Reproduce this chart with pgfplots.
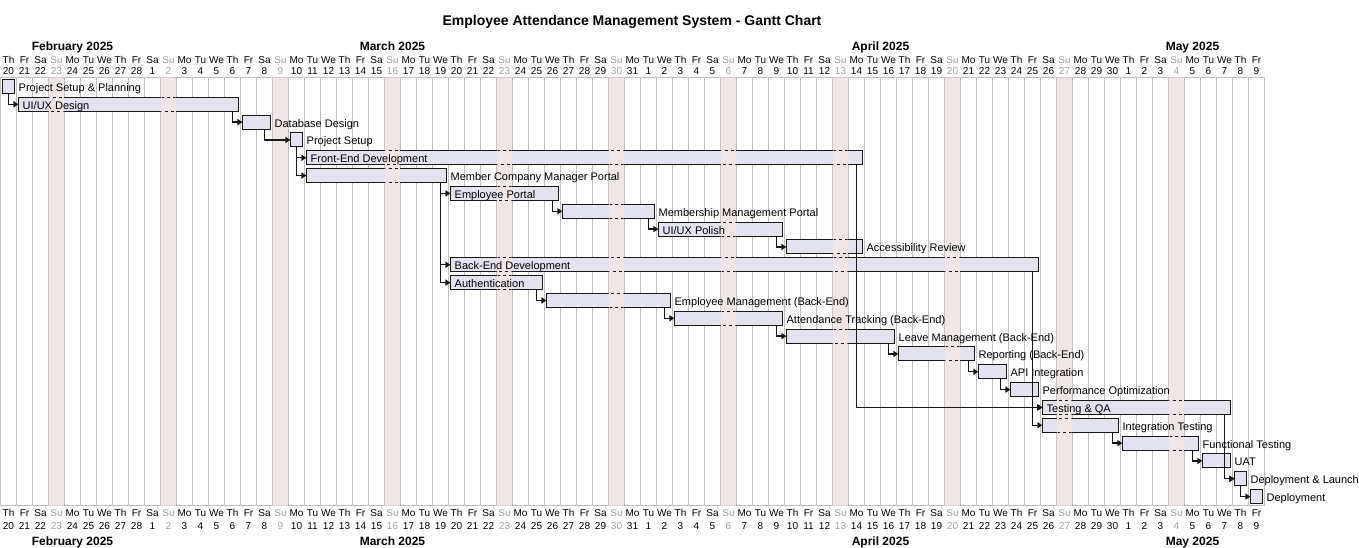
\documentclass[border=0pt]{standalone}
\usepackage{fontspec}
\setmainfont{Liberation Sans}
\usepackage{pgfplots}
\pgfplotsset{compat=1.18}
\usepackage{pgfplotstable}
\usetikzlibrary{arrows.meta}

\definecolor{barfill}{HTML}{E2E2F0}
\definecolor{bardark}{HTML}{181818}
\definecolor{sunpink}{HTML}{F1E5E5}
\definecolor{gridgray}{HTML}{C0C0C0}
\definecolor{sungray}{HTML}{A0A0A0}

\pgfplotstableread{
row start end
0 0 1
1 1 15
2 15 17
3 18 19
4 19 54
5 19 28
6 28 35
7 35 41
8 41 49
9 49 54
10 28 65
11 28 34
12 34 42
13 42 49
14 49 56
15 56 61
16 61 63
17 63 65
18 65 77
19 65 70
20 70 75
21 75 77
22 77 78
23 78 79
}\tasks

\newcommand\wdname[1]{\ifcase#1 Mo\or Tu\or We\or Th\or Fr\or Sa\or Su\fi}

\pgfplotsset{gantt/.style={scale only axis, width=1264pt, height=428pt,
  xmin=0, xmax=79, ymin=0, ymax=24, y dir=reverse,
  at={(0.5pt,-77.5pt)}, anchor=north west}}

\tikzset{
  dep/.style={draw=bardark, line width=1.2pt, -{Triangle[length=5pt,width=6pt]}},
  lbl/.style={anchor=base west, inner sep=0pt, font=\fontsize{11}{13}\selectfont, text=black}
}

\begin{document}
\begin{tikzpicture}
% --- axis 1: grid and bars
\begin{axis}[gantt, xbar stacked, bar width=0.785,
  xtick={0,...,79}, xticklabels={,,}, ytick=\empty,
  xmajorgrids, major grid style={draw=gridgray, line width=1pt},
  axis line style={draw=gridgray, line width=1pt},
  major tick length=0pt, tick style={draw=none}]
\addplot[xbar stacked, draw=none, fill=none] table[x expr=\thisrow{start}+0.125, y expr=\thisrow{row}+0.5] {\tasks};
\addplot[xbar stacked, draw=bardark, line width=1.1pt, fill=barfill] table[x expr=\thisrow{end}-\thisrow{start}-0.25, y expr=\thisrow{row}+0.5] {\tasks};
\end{axis}
% --- axis 2: Sunday (closed day) columns
\begin{axis}[gantt, hide axis]
\addplot[ybar, bar width=0.9375, fill=sunpink, draw=none] coordinates {
(3.5,24) (10.5,24) (17.5,24) (24.5,24) (31.5,24) (38.5,24) (45.5,24) (52.5,24) (59.5,24) (66.5,24) (73.5,24)};
\end{axis}
% --- axis 3: dashed outlines of bars, shown only across closed days
\begin{scope}
\clip \foreach \i in {3,10,17,24,31,38,45,52,59,66,73} {({1.5pt+16pt*\i},0pt) rectangle ({16pt*\i+15.5pt},-547pt)};
\begin{axis}[gantt, hide axis, xbar stacked, bar width=0.785]
\addplot[xbar stacked, draw=none, fill=none] table[x expr=\thisrow{start}+0.125, y expr=\thisrow{row}+0.5] {\tasks};
\addplot[xbar stacked, draw=bardark, line width=1.1pt, fill=none, dash pattern=on 3pt off 3pt, dash phase=1.5pt] table[x expr=\thisrow{end}-\thisrow{start}-0.25, y expr=\thisrow{row}+0.5] {\tasks};
\end{axis}
\end{scope}
% --- axis 4: dependencies and labels
\begin{axis}[gantt, hide axis, clip=false]
\addplot[dep] coordinates {(0.5,0.89) (0.5,1.5) (1.125,1.5)};
\addplot[dep] coordinates {(14.5,1.89) (14.5,2.5) (15.125,2.5)};
\addplot[dep] coordinates {(16.5,2.89) (16.5,3.5) (18.125,3.5)};
\addplot[dep] coordinates {(18.5,3.89) (18.5,4.5) (19.125,4.5)};
\addplot[dep] coordinates {(18.5,3.89) (18.5,5.5) (19.125,5.5)};
\addplot[dep] coordinates {(27.5,5.89) (27.5,6.5) (28.125,6.5)};
\addplot[dep] coordinates {(27.5,5.89) (27.5,10.5) (28.125,10.5)};
\addplot[dep] coordinates {(27.5,5.89) (27.5,11.5) (28.125,11.5)};
\addplot[dep] coordinates {(34.5,6.89) (34.5,7.5) (35.125,7.5)};
\addplot[dep] coordinates {(40.5,7.89) (40.5,8.5) (41.125,8.5)};
\addplot[dep] coordinates {(48.5,8.89) (48.5,9.5) (49.125,9.5)};
\addplot[dep] coordinates {(33.5,11.89) (33.5,12.5) (34.125,12.5)};
\addplot[dep] coordinates {(41.5,12.89) (41.5,13.5) (42.125,13.5)};
\addplot[dep] coordinates {(48.5,13.89) (48.5,14.5) (49.125,14.5)};
\addplot[dep] coordinates {(55.5,14.89) (55.5,15.5) (56.125,15.5)};
\addplot[dep] coordinates {(60.5,15.89) (60.5,16.5) (61.125,16.5)};
\addplot[dep] coordinates {(62.5,16.89) (62.5,17.5) (63.125,17.5)};
\addplot[dep] coordinates {(64.5,17.89) (64.5,18.5) (65.125,18.5)};
\addplot[dep] coordinates {(64.5,10.89) (64.5,18.5) (65.125,18.5)};
\addplot[dep] coordinates {(64.5,10.89) (64.5,19.5) (65.125,19.5)};
\addplot[dep] coordinates {(53.5,4.89) (53.5,18.5) (65.125,18.5)};
\addplot[dep] coordinates {(69.5,19.89) (69.5,20.5) (70.125,20.5)};
\addplot[dep] coordinates {(74.5,20.89) (74.5,21.5) (75.125,21.5)};
\addplot[dep] coordinates {(76.5,18.89) (76.5,22.5) (77.125,22.5)};
\addplot[dep] coordinates {(76.5,21.89) (76.5,22.5) (77.125,22.5)};
\addplot[dep] coordinates {(77.5,22.89) (77.5,23.5) (78.125,23.5)};
% labels
\node[lbl] at (axis cs:1.125,0.78) {Project Setup \& Planning};
\node[lbl] at (axis cs:1.375,1.78) {UI/UX Design};
\node[lbl] at (axis cs:17.125,2.78) {Database Design};
\node[lbl] at (axis cs:19.125,3.78) {Project Setup};
\node[lbl] at (axis cs:19.375,4.78) {Front-End Development};
\node[lbl] at (axis cs:28.125,5.78) {Member Company Manager Portal};
\node[lbl] at (axis cs:28.375,6.78) {Employee Portal};
\node[lbl] at (axis cs:41.125,7.78) {Membership Management Portal};
\node[lbl] at (axis cs:41.375,8.78) {UI/UX Polish};
\node[lbl] at (axis cs:54.125,9.78) {Accessibility Review};
\node[lbl] at (axis cs:28.375,10.78) {Back-End Development};
\node[lbl] at (axis cs:28.375,11.78) {Authentication};
\node[lbl] at (axis cs:42.125,12.78) {Employee Management (Back-End)};
\node[lbl] at (axis cs:49.125,13.78) {Attendance Tracking (Back-End)};
\node[lbl] at (axis cs:56.125,14.78) {Leave Management (Back-End)};
\node[lbl] at (axis cs:61.125,15.78) {Reporting (Back-End)};
\node[lbl] at (axis cs:63.125,16.78) {API Integration};
\node[lbl] at (axis cs:65.125,17.78) {Performance Optimization};
\node[lbl] at (axis cs:65.375,18.78) {Testing \& QA};
\node[lbl] at (axis cs:70.125,19.78) {Integration Testing};
\node[lbl] at (axis cs:75.125,20.78) {Functional Testing};
\node[lbl] at (axis cs:77.125,21.78) {UAT};
\node[lbl] at (axis cs:78.125,22.78) {Deployment \& Launch};
\node[lbl] at (axis cs:79.125,23.78) {Deployment};
\end{axis}

% --- title
\node[anchor=base, inner sep=0pt, font=\fontsize{14}{16}\selectfont\bfseries] at (632pt,-25pt) {Employee Attendance Management System - Gantt Chart};

% --- time scale (top and bottom)
\foreach \d in {0,...,78} {
  \pgfmathtruncatemacro\wdn{mod(\d+3,7)}
  \pgfmathtruncatemacro\dn{\d<9 ? \d+20 : (\d<40 ? \d-8 : (\d<70 ? \d-39 : \d-69))}
  \pgfmathsetmacro\xc{8.5+16*\d}
  \ifnum\wdn=6 \def\tc{sungray}\else\def\tc{black}\fi
  \node[anchor=base, inner sep=0pt, text=\tc, font=\fontsize{10}{12}\selectfont] at (\xc pt,-63.5pt) {\wdname{\wdn}};
  \node[anchor=base, inner sep=0pt, text=\tc, font=\fontsize{10}{12}\selectfont] at (\xc pt,-74.7pt) {\dn};
  \node[anchor=base, inner sep=0pt, text=\tc, font=\fontsize{10}{12}\selectfont] at (\xc pt,-516pt) {\wdname{\wdn}};
  \node[anchor=base, inner sep=0pt, text=\tc, font=\fontsize{10}{12}\selectfont] at (\xc pt,-529.7pt) {\dn};
}
\foreach \xm/\mn in {72.5/February 2025, 392.5/March 2025, 880.5/April 2025, 1192.5/May 2025} {
  \node[anchor=base, inner sep=0pt, font=\fontsize{12}{14}\selectfont\bfseries] at (\xm pt,-50.5pt) {\mn};
  \node[anchor=base, inner sep=0pt, font=\fontsize{12}{14}\selectfont\bfseries] at (\xm pt,-545pt) {\mn};
}

\pgfresetboundingbox
\path[use as bounding box] (0,0) rectangle (1359pt,-547pt);
\end{tikzpicture}
\end{document}
